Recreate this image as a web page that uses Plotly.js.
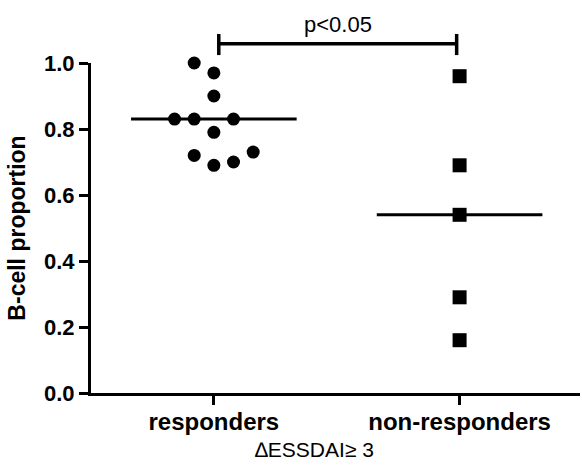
<!DOCTYPE html>
<html>
<head>
<meta charset="utf-8">
<script src="https://cdn.plot.ly/plotly-3.0.1.min.js"></script>
<style>html,body{margin:0;padding:0;background:#fff;}#chart{width:582px;height:465px;}</style>
</head>
<body>
<div id="chart"></div>
<script>
// Data
const categories = ["responders", "non-responders"];
const respondersValues = [1.00, 0.97, 0.90, 0.83, 0.83, 0.83, 0.79, 0.73, 0.72, 0.70, 0.69];
const respondersSlots  = [-1, 0, 0, -2, -1, 1, 0, 2, -1, 1, 0];   // dot-plot column of each point
const nonRespondersValues = [0.96, 0.69, 0.54, 0.29, 0.16];
const nonRespondersSlots  = [0, 0, 0, 0, 0];
const yTickVals = [0.0, 0.2, 0.4, 0.6, 0.8, 1.0];
const yTickText = ["0.0", "0.2", "0.4", "0.6", "0.8", "1.0"];
const xTitle = "\u2206ESSDAI\u2265 3";
const yTitle = "B-cell proportion";
const pLabel = "p&lt;0.05";

const FONT = "Arial, 'Liberation Sans', sans-serif";
const slotStep = 0.08;
const medianHalf = 0.337;
const xRange = [-0.5, 1.49];

function median(a) {
  const s = [...a].sort((p, q) => p - q);
  const m = Math.floor(s.length / 2);
  return s.length % 2 ? s[m] : (s[m - 1] + s[m]) / 2;
}
const toPaperX = v => (v - xRange[0]) / (xRange[1] - xRange[0]);

const traces = [
  {
    x: respondersSlots.map(s => 0 + s * slotStep), y: respondersValues,
    type: "scatter", mode: "markers", cliponaxis: false,
    marker: {symbol: "circle", size: 13, color: "#000"}, hoverinfo: "y"
  },
  {
    x: nonRespondersSlots.map(s => 1 + s * slotStep), y: nonRespondersValues,
    type: "scatter", mode: "markers", cliponaxis: false,
    marker: {symbol: "square", size: 14, color: "#000"}, hoverinfo: "y"
  }
];
[respondersValues, nonRespondersValues].forEach((vals, i) => {
  const m = median(vals);
  traces.push({
    x: [i - medianHalf, i + medianHalf], y: [m, m],
    type: "scatter", mode: "lines", line: {color: "#000", width: 3}, hoverinfo: "skip"
  });
});

const bracketY = 1.058, capTop = 1.088, capBot = 1.024;
const bx0 = toPaperX(0.02), bx1 = toPaperX(0.988);
const shapes = [
  {type: "line", xref: "paper", yref: "paper", x0: bx0, x1: bx1, y0: bracketY, y1: bracketY, line: {color: "#000", width: 3.5}},
  {type: "line", xref: "paper", yref: "paper", x0: bx0, x1: bx0, y0: capBot, y1: capTop, line: {color: "#000", width: 3.5}},
  {type: "line", xref: "paper", yref: "paper", x0: bx1, x1: bx1, y0: capBot, y1: capTop, line: {color: "#000", width: 3.5}}
];

const layout = {
  width: 582, height: 465,
  margin: {l: 91, r: 2, t: 63, b: 72},
  paper_bgcolor: "#fff", plot_bgcolor: "#fff",
  showlegend: false,
  font: {family: FONT, color: "#000"},
  xaxis: {
    range: xRange, tickvals: [0, 1], ticktext: categories,
    showgrid: false, zeroline: false,
    showline: true, linecolor: "#000", linewidth: 3,
    ticks: "outside", ticklen: 9, tickwidth: 3, tickcolor: "#000",
    ticklabelstandoff: -4,
    tickfont: {family: FONT, size: 24, color: "#000", weight: "bold"}
  },
  yaxis: {
    range: [0, 1], tickvals: yTickVals, ticktext: yTickText,
    showgrid: false, zeroline: false,
    showline: true, linecolor: "#000", linewidth: 3,
    ticks: "outside", ticklen: 9, tickwidth: 3, tickcolor: "#000",
    tickfont: {family: FONT, size: 22, color: "#000", weight: "bold"},
    title: {text: yTitle, font: {family: FONT, size: 23, color: "#000", weight: "bold"}, standoff: 12}
  },
  shapes: shapes,
  annotations: [
    {
      xref: "paper", yref: "paper", x: (bx0 + bx1) / 2, y: 1.118,
      text: pLabel, showarrow: false, xanchor: "center", yanchor: "middle",
      font: {family: FONT, size: 22, color: "#000"}
    },
    {
      xref: "paper", yref: "paper", x: 0.458, y: -0.172,
      text: xTitle, showarrow: false, xanchor: "center", yanchor: "middle",
      font: {family: FONT, size: 21, color: "#000"}
    }
  ]
};

Plotly.newPlot("chart", traces, layout, {displayModeBar: false, staticPlot: true});
</script>
</body>
</html>
